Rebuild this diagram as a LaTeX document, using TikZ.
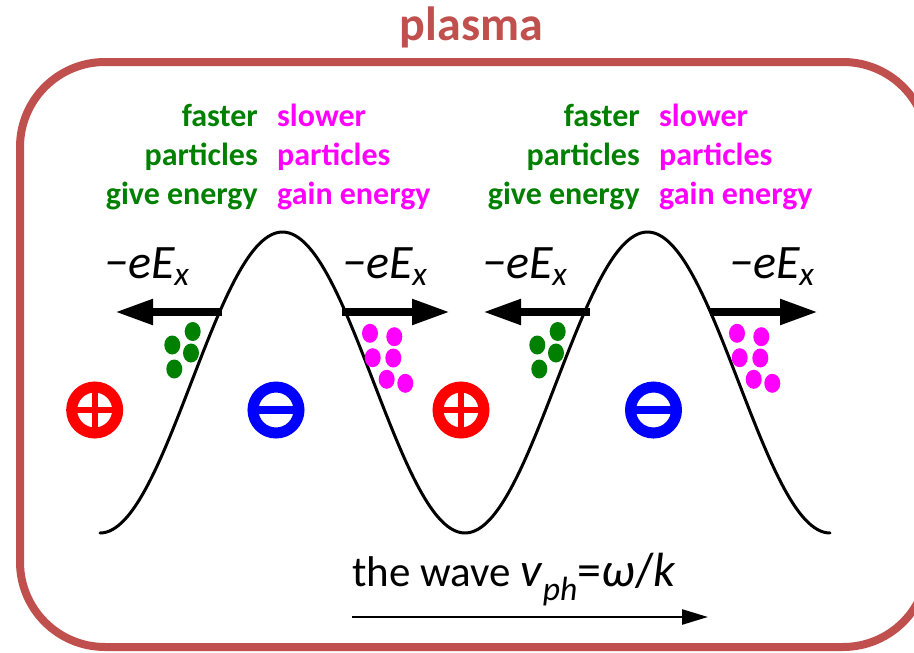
\documentclass[tikz,border=0pt]{standalone}
\usepackage{fontspec}
\setmainfont{Carlito}
\usetikzlibrary{arrows.meta}
\definecolor{boxred}{HTML}{C0504D}
\definecolor{fgreen}{HTML}{008000}
\definecolor{smag}{HTML}{FF00FF}
\definecolor{pred}{HTML}{FF0000}
\definecolor{nblue}{HTML}{0000FF}
\tikzset{
  grn/.style={text=fgreen, font=\bfseries\fontsize{32}{38}\selectfont, anchor=base east, inner sep=0pt},
  mag/.style={text=smag, font=\bfseries\fontsize{32}{38}\selectfont, anchor=base west, inner sep=0pt},
  forcelbl/.style={font=\itshape\fontsize{48}{52}\selectfont, anchor=base west, inner sep=0pt},
  forcearrow/.style={line width=8pt, -{Triangle[length=38pt,width=24pt]}},
  gdot/.style={fill=fgreen, draw=none},
  mdot/.style={fill=smag, draw=none},
  ring/.style={line width=11pt},
}
\newcommand{\minusE}{−eE\textsubscript{x}}
\begin{document}
\begin{tikzpicture}[x=1pt,y=-1pt]
\useasboundingbox (0,0) rectangle (914,653);
% plasma box
\draw[boxred, line width=8pt, rounded corners=85pt] (20,62) rectangle (928,647);
\node[text=boxred, font=\bfseries\fontsize{48}{56}\selectfont, anchor=base, inner sep=0pt] (title) at (471.5,41) {plasma};

% wave
\draw[line width=3pt, line cap=round] plot[domain=100:830, samples=240, smooth] (\x,{382.5+150.5*cos(0.9863014*(\x-100))});

% labels, group 1
\node[grn] (f1) at (258,126) {faster};
\node[grn] (p1) at (258,165) {particles};
\node[grn] (g1) at (258,204) {give energy};
\node[mag] (s1) at (277,126) {slower};
\node[mag] (q1) at (277,165) {particles};
\node[mag] (h1) at (277,204) {gain energy};
% group 2
\node[grn] (f2) at (640,126) {faster};
\node[grn] (p2) at (640,165) {particles};
\node[grn] (g2) at (640,204) {give energy};
\node[mag] (s2) at (659,126) {slower};
\node[mag] (q2) at (659,165) {particles};
\node[mag] (h2) at (659,204) {gain energy};

% force labels
\node[forcelbl] (e1) at (104,278) {\minusE};
\node[forcelbl] (e2) at (342,278) {\minusE};
\node[forcelbl] (e3) at (482,278) {\minusE};
\node[forcelbl] (e4) at (729,278) {\minusE};

% arrow endpoints
\coordinate (a1s) at (222,312);
\coordinate (a1e) at (115,312);
\coordinate (a2s) at (342,312);
\coordinate (a2e) at (450,312);
\coordinate (a3s) at (590,312);
\coordinate (a3e) at (483,312);
\coordinate (a4s) at (710,312);
\coordinate (a4e) at (818,312);
\draw[forcearrow] (a1s) -- (a1e);
\draw[forcearrow] (a2s) -- (a2e);
\draw[forcearrow] (a3s) -- (a3e);
\draw[forcearrow] (a4s) -- (a4e);

% green dots
\foreach \dx in {0,365}{
  \fill[gdot] (192.7+\dx,331.5) ellipse (8pt and 9.5pt);
  \fill[gdot] (172.3+\dx,345) ellipse (8pt and 9.5pt);
  \fill[gdot] (191+\dx,353) ellipse (8pt and 9.5pt);
  \fill[gdot] (174.3+\dx,369) ellipse (8pt and 9.5pt);
}
% magenta dots
\foreach \dx in {0,367}{
  \fill[mdot] (370+\dx,333.3) ellipse (8pt and 9.5pt);
  \fill[mdot] (394.3+\dx,336.7) ellipse (8pt and 9.5pt);
  \fill[mdot] (372.7+\dx,357.7) ellipse (8pt and 9.5pt);
  \fill[mdot] (393.3+\dx,358) ellipse (8pt and 9.5pt);
  \fill[mdot] (386.7+\dx,379.3) ellipse (8pt and 9.5pt);
  \fill[mdot] (405.3+\dx,383.3) ellipse (8pt and 9.5pt);
}

% ions
\foreach \cx/\nm in {94.7/pa,461/pb}{
  \coordinate (\nm) at (\cx,410);
  \draw[pred, ring] (\nm) circle (23pt);
  \draw[pred, line width=6pt] ([yshift=-19pt]\nm) -- ([yshift=19pt]\nm);
  \draw[pred, line width=6pt] ([xshift=-19pt]\nm) -- ([xshift=19pt]\nm);
}
\foreach \cx/\nm in {276/na,653.5/nb}{
  \coordinate (\nm) at (\cx,410);
  \draw[nblue, ring] (\nm) circle (23pt);
  \draw[nblue, line width=8pt] ([xshift=-19pt]\nm) -- ([xshift=19pt]\nm);
}

% wave label and arrow
\node[font=\fontsize{43}{48}\selectfont, anchor=base west, inner sep=0pt] (wl) at (352,586) {the wave {\fontsize{48}{50}\selectfont\textit{v}\textsubscript{\textit{ph}}=\textit{ω}/\textit{k}}};
\coordinate (ws) at (352,617);
\coordinate (we) at (708,617);
\draw[line width=2.5pt, -{Triangle[length=26pt,width=15pt]}] (ws) -- (we);
\end{tikzpicture}
\end{document}
